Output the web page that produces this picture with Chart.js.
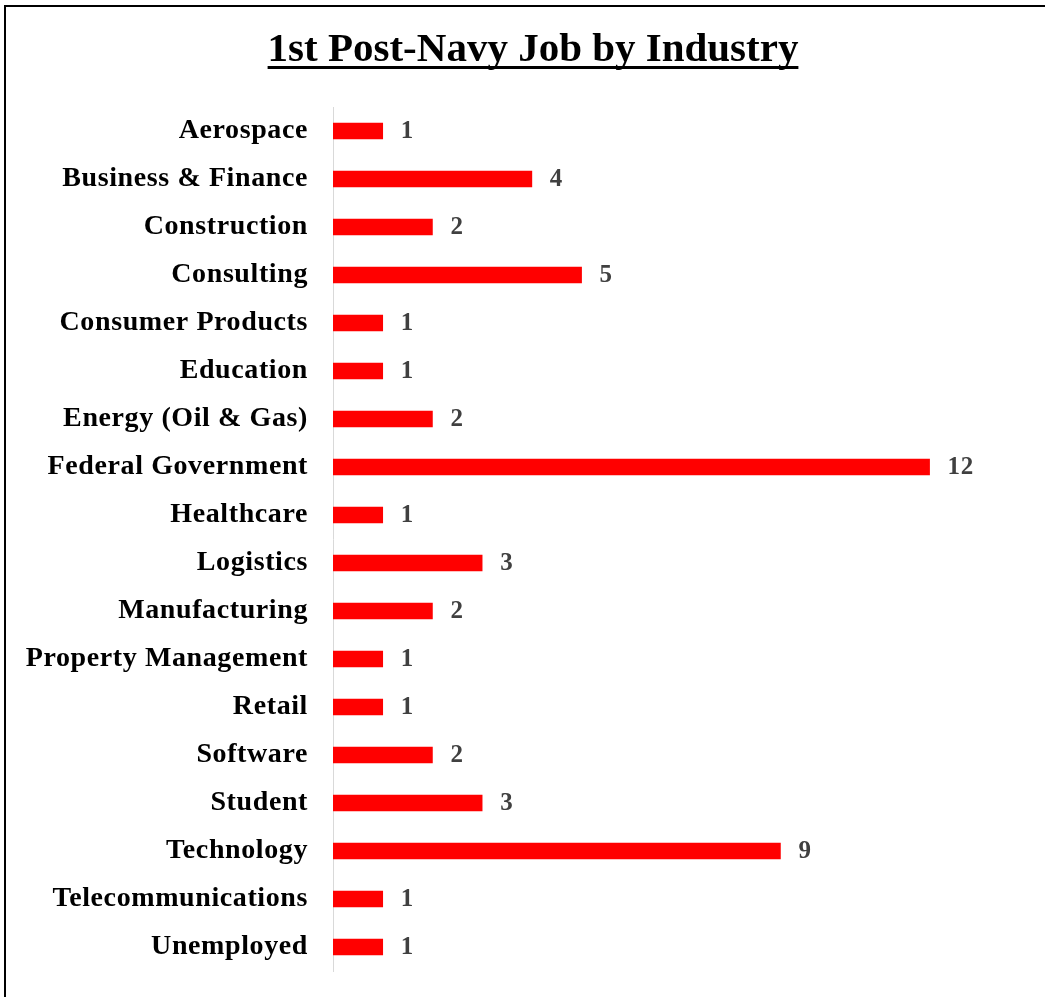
<!DOCTYPE html>
<html>
<head>
<meta charset="utf-8">
<script src="https://cdn.jsdelivr.net/npm/chart.js@4"></script>
<style>
  html, body { margin: 0; padding: 0; background: #fff; }
  #wrap { position: absolute; left: 0; top: 0; width: 1045px; height: 997px; }
</style>
</head>
<body>
<div id="wrap"><canvas id="jobChart" width="1045" height="997"></canvas></div>
<script>
const industries = [
  'Aerospace', 'Business & Finance', 'Construction', 'Consulting',
  'Consumer Products', 'Education', 'Energy (Oil & Gas)', 'Federal Government',
  'Healthcare', 'Logistics', 'Manufacturing', 'Property Management',
  'Retail', 'Software', 'Student', 'Technology', 'Telecommunications', 'Unemployed'
];
const jobCounts = [1, 4, 2, 5, 1, 1, 2, 12, 1, 3, 2, 1, 1, 2, 3, 9, 1, 1];
const chartTitle = '1st Post-Navy Job by Industry';
const serif = "'Liberation Serif', 'Times New Roman', serif";

// canvas letter spacing gets reset on resize, so set it again before layout and draw
const spacing = {
  id: 'spacing',
  beforeUpdate(chart) { chart.ctx.letterSpacing = '0.6px'; },
  beforeDraw(chart) { chart.ctx.letterSpacing = '0.6px'; }
};

const frame = {
  id: 'frame',
  beforeDraw(chart) {
    const c = chart.ctx;
    c.save();
    c.fillStyle = '#fff';
    c.fillRect(0, 0, chart.width, chart.height);
    c.strokeStyle = '#000';
    c.lineWidth = 2;
    c.strokeRect(5, 6, chart.width + 20, chart.height + 20);
    c.restore();
  }
};

const underlinedTitle = {
  id: 'underlinedTitle',
  afterDraw(chart) {
    const c = chart.ctx;
    c.save();
    c.letterSpacing = '0px';
    c.font = 'bold 41px ' + serif;
    c.fillStyle = '#000';
    c.textAlign = 'center';
    c.textBaseline = 'alphabetic';
    const cx = 533;
    c.fillText(chartTitle, cx, 61);
    const w = c.measureText(chartTitle).width;
    c.fillRect(cx - w / 2, 66, w, 3);
    c.restore();
  }
};

const valueLabels = {
  id: 'valueLabels',
  afterDatasetsDraw(chart) {
    const c = chart.ctx;
    const meta = chart.getDatasetMeta(0);
    c.save();
    c.font = 'bold 25px ' + serif;
    c.fillStyle = '#404040';
    c.textAlign = 'left';
    c.textBaseline = 'middle';
    meta.data.forEach((bar, i) => {
      c.fillText(String(jobCounts[i]), bar.x + 18, bar.y + 1);
    });
    c.restore();
  }
};

new Chart(document.getElementById('jobChart'), {
  type: 'bar',
  data: {
    labels: industries,
    datasets: [{
      data: jobCounts,
      backgroundColor: '#ff0000',
      borderWidth: 0,
      barThickness: 16
    }]
  },
  options: {
    indexAxis: 'y',
    responsive: false,
    animation: false,
    devicePixelRatio: 1,
    layout: { padding: { left: 0, right: 16, top: 107, bottom: 26 } },
    plugins: {
      legend: { display: false },
      title: { display: false },
      tooltip: { enabled: false }
    },
    scales: {
      x: {
        display: false,
        min: 0,
        max: 14
      },
      y: {
        afterFit(scale) {
          scale.width = 333;
          // tick padding would otherwise push the plot bottom up
          scale.paddingTop = 0;
          scale.paddingBottom = 0;
        },
        grid: { drawOnChartArea: false, drawTicks: false },
        border: { display: true, color: '#d9d9d9', width: 1 },
        ticks: {
          color: '#000',
          padding: 25,
          font: { family: serif, size: 28, weight: 'bold' }
        }
      }
    }
  },
  plugins: [spacing, frame, underlinedTitle, valueLabels]
});
</script>
</body>
</html>
